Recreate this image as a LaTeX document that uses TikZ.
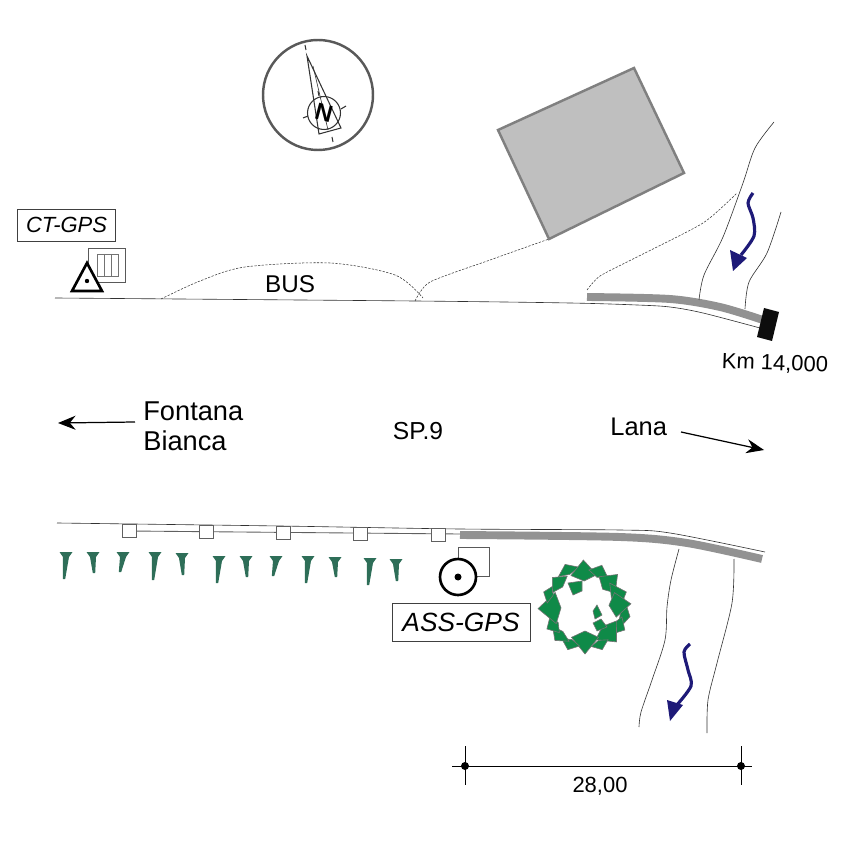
\documentclass[tikz,border=0pt]{standalone}
\usepackage{fontspec}
\usepackage{xcolor}
\setmainfont{Liberation Sans}
\usetikzlibrary{arrows.meta}
\definecolor{roadgray}{HTML}{929292}
\definecolor{wallgray}{HTML}{606060}
\definecolor{treegreen}{HTML}{2E6E58}
\definecolor{leafgreen}{HTML}{0F8A48}
\definecolor{riverblue}{HTML}{1E1A78}
\tikzset{
	fine/.style={draw=black!80, line width=.35pt},
	trail/.style={draw=black!80, line width=.3pt, dash pattern=on 1.3pt off .8pt},
	curb/.style={draw=roadgray, line width=4.5pt},
	house/.style={draw=black!50, fill=black!25, line width=1.4pt},
	label/.style={inner sep=0pt, font=\fontsize{14}{17}\selectfont},
	tagbox/.style={draw=black!75, fill=white, line width=.5pt, inner sep=0pt, font=\itshape},
	pointer/.style={draw=black, line width=.7pt, -{Stealth[length=10pt,width=8pt]}},
	flow/.style={draw=riverblue, line width=1.8pt},
	head/.style={fill=riverblue},
	post/.style={draw=wallgray, fill=white, line width=.5pt},
	gpsmark/.style={draw=black, line width=1.5pt},
	leaf/.style={fill=leafgreen, draw=black!55, line width=.35pt},
	tree/.style={fill=treegreen},
}
\begin{document}
\begin{tikzpicture}[x=.02cm, y=-.02cm]
	\useasboundingbox (0,0) rectangle (848,847);
	% compass
	\draw[draw=black!65, line width=1.4pt] (318,95) circle (55);
	\draw[fine, line width=.6pt] (307,56) -- (319,134) -- (341,128) -- cycle;
	\draw[fine] (313,66) -- (328,130);
	\draw[fine, line width=.6pt] (324,113) circle (16.5);
	\foreach \a/\b/\c/\d in {305/45/306/50, 332/137/333/142, 341/109/346/106, 303/118/308/116, 318/91/319/96}
		\draw[fine, line width=.6pt] (\a,\b) -- (\c,\d);
	\node[rotate=-15, inner sep=0pt, font=\fontsize{13.5}{13}\selectfont\bfseries] (north) at (324,113) {N};
	% building
	\draw[house] (498,130) -- (634,68) -- (684,173) -- (549,239) -- cycle;
	% upper road
	\draw[fine] plot[smooth] coordinates {(55,298) (415,301) (570,303) (637,305) (670,307) (703,313) (760,328)};
	\draw[curb] plot[smooth] coordinates {(587,297) (670,299) (720,307) (763,320)};
	\fill[black!95] (764,308) -- (779,312) -- (772,341) -- (757,337) -- cycle;
	\draw[trail] plot[smooth] coordinates {(161,299) (200,281) (245,267) (330,263) (395,275) (423,298)};
	\draw[trail] plot[smooth, tension=.4] coordinates {(415,301) (430,282) (490,260) (549,239)};
	\draw[trail] plot[smooth, tension=.4] coordinates {(587,290) (600,276) (637,257) (703,223) (737,193)};
	% upper river
	\draw[fine] plot[smooth] coordinates {(774,122) (755,148) (743,183) (723,237) (704,275) (699,300)};
	\draw[fine] plot[smooth] coordinates {(781,212) (767,253) (749,282) (745,309)};
	\draw[flow] plot[smooth] coordinates {(753,193) (748,203) (753,218) (754,236) (741,255)};
	\fill[head] (733,271) -- (730,250) -- (747,258) -- cycle;
	% CT-GPS
	\node[tagbox, minimum width=98*.02cm, minimum height=32*.02cm, font=\fontsize{12.5}{14}\selectfont\itshape] (ctgps) at (66.5,225) {CT-GPS};
	\draw[draw=black!65, line width=.4pt] (88,248) rectangle (125,282);
	\draw[draw=black!55, line width=.4pt] (97,254) rectangle (118,276) (104,254) -- (104,276) (111,254) -- (111,276);
	\draw[gpsmark, fill=white, line join=miter] (87,263) -- (102,291) -- (72,291) -- cycle;
	\fill (87,281) circle (2.2);
	% texts
	\node[label, font=\fontsize{13.8}{17}\selectfont] (bus) at (290,284) {BUS};
	\node[label, align=left, anchor=west, font=\fontsize{15.5}{17}\selectfont] (fontana) at (143,426) {Fontana\\Bianca};
	\node[label] (sp) at (418,431) {SP.9};
	\node[label, font=\fontsize{14.5}{17}\selectfont, anchor=west] (lana) at (610,427) {Lana};
	\node[label, rotate=-2, font=\fontsize{12.5}{15}\selectfont] (km) at (775,364) {Km 14,000};
	\coordinate (fontanaend) at (58,423);
	\coordinate (fontanastart) at (135,422);
	\coordinate (lanastart) at (681,432);
	\coordinate (lanaend) at (764,450);
	\draw[pointer] (fontanastart) -- (fontanaend);
	\draw[pointer] (lanastart) -- (lanaend);
	% lower road
	\draw[fine] plot[smooth] coordinates {(57,523) (280,526) (460,529) (620,530) (670,533) (765,552)};
	\draw[wallgray, line width=.5pt] (130,531) -- (460,534);
	\foreach \a/\b in {129/531, 206/532, 283/533, 360.5/534, 438/534.5}
		\draw[post] (\a-7,\b-6.5) rectangle (\a+7,\b+6.5);
	\draw[curb] plot[smooth] coordinates {(460,535) (620,537) (687,543) (762,559)};
	% trees
	\foreach \a/\b/\c/\d in {66/552/64/579, 93/552/94/573, 123/552/120/572, 155/552/153/580, 182/553/183/575, 219/556/217/583, 246/556/247/577, 276/556/273/576, 308/556/306/583, 335/557/336/577, 370/558/368/585, 396/559/397/581}
		\fill[tree] (\a-6.5,\b) -- (\a+6.5,\b) -- (\a+3,\b+5) -- (\c+1.2,\d) -- (\c-1.2,\d) -- (\a-3,\b+5) -- cycle;
	% ASS-GPS
	\draw[draw=black!65, line width=.4pt] (458,547) rectangle (489,576);
	\draw[gpsmark, fill=white] (458,577) circle (18);
	\fill (458,577) circle (3.5);
	\node[tagbox, minimum width=138*.02cm, minimum height=38*.02cm, font=\fontsize{15}{18}\selectfont\itshape] (assgps) at (461,622) {ASS-GPS};
	% wreath
	\begin{scope}[shift={(585,607)}]
		\foreach \a/\r/\s/\w in {12/36/10/24, 30/33/13/15, 48/26/21/24, 68/36/10/13, 90/24/23/24, 112/35/11/14, 132/33/12/17, 150/31/13/15, 178/24/23/28, 200/34/10/14, 222/30/14/18, 245/36/11/16, 268/26/21/22, 292/32/13/16, 315/25/21/20, 340/28/16/24, 356/24/22/22}
			\draw[leaf] (\a:\r) -- (\a+\w:\r+.4*\s) -- (\a:\r+\s) -- (\a-\w:\r+.4*\s) -- cycle;
		\draw[leaf] (-17,-24) -- (-3,-26) -- (-3,-16) -- (-12,-12) -- cycle;
		\draw[leaf] (12,-2) -- (17,8) -- (10,12) -- (8,4) -- cycle;
		\draw[leaf] (16,12) -- (22,20) -- (12,24) -- (8,16) -- cycle;
	\end{scope}
	% lower river
	\draw[fine] plot[smooth] coordinates {(679,549) (671,580) (667,607) (665,640) (652,680) (641,712) (639,727)};
	\draw[fine] plot[smooth] coordinates {(734,559) (732,603) (717,663) (708,700) (707,733)};
	\draw[flow] plot[smooth] coordinates {(690,644) (684,652) (688,670) (691,686) (676,706)};
	\fill[head] (670,721) -- (667,700) -- (683,705) -- cycle;
	% dimension
	\coordinate (dimleft) at (465,766);
	\coordinate (dimright) at (741,766);
	\coordinate (dimleftend) at (452,766);
	\coordinate (dimrightend) at (752,766);
	\draw[black, line width=.5pt] (dimleftend) -- (dimrightend);
	\foreach \p in {dimleft, dimright}{
		\draw[black, line width=.5pt] (\p) ++(0,-20) -- ++(0,39);
		\fill (\p) circle (4);
	}
	\node[label, font=\fontsize{12.5}{15}\selectfont] (width) at (600,786) {28,00};
\end{tikzpicture}
\end{document}
